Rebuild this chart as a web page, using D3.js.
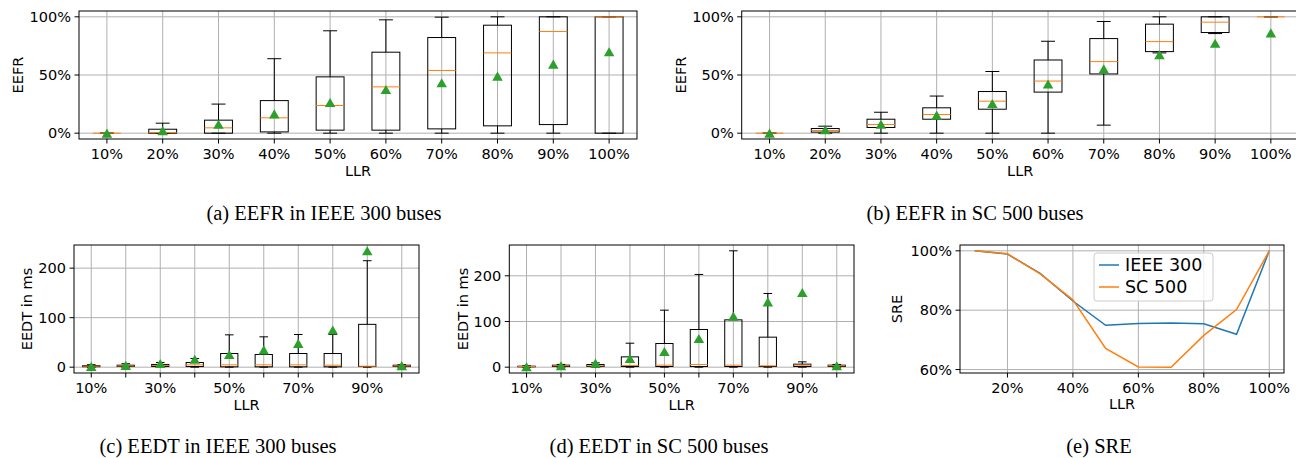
<!DOCTYPE html>
<html>
<head>
<meta charset="utf-8">
<script src="https://cdn.jsdelivr.net/npm/d3@7"></script>
<style>
    body { margin: 0; background: #fff; }
    text { font-family: "DejaVu Sans", sans-serif; fill: #000; }
    .caption { font-family: "Liberation Serif", serif; font-size: 20.5px; }
</style>
</head>
<body>
<svg id="fig" width="1296" height="458"></svg>
<script>
// x categories (load ratio)
const llrLabels = ["10%", "20%", "30%", "40%", "50%", "60%", "70%", "80%", "90%", "100%"];
const llrValues = [10, 20, 30, 40, 50, 60, 70, 80, 90, 100];

// box stats, one row per LLR: [whiskerLow, q1, median, q3, whiskerHigh, mean]
const eefrIeee300 = [
    [0, 0, 0, 0, 0, 0],
    [0, 0, 0.5, 3.4, 8.6, 2.2],
    [0, 0, 4.6, 11.2, 25, 7.7],
    [0, 1.1, 13.2, 28, 64, 16.6],
    [0, 2.6, 23.8, 48.4, 88, 26.4],
    [0, 2.6, 39.8, 69.6, 97.4, 37.5],
    [0, 3.7, 53.9, 82.2, 99.7, 43.3],
    [0, 6.3, 69, 92.8, 100, 49],
    [0, 7.4, 87.4, 100, 100, 59.3],
    [0, 0, 100, 100, 100, 70]
];
const eefrSc500 = [
    [0, 0, 0, 0, 0, 0],
    [0, 0.9, 2.3, 4, 6, 2.9],
    [0, 4.9, 7.5, 12, 18, 7.7],
    [0, 12, 16, 21.8, 31.9, 15.5],
    [0, 20.6, 27.5, 35.8, 53, 25.5],
    [0, 35.3, 44.8, 62.9, 79, 42.2],
    [6.9, 50.9, 61.5, 81.3, 96, 55.2],
    [69, 70.1, 78.7, 93.7, 100, 67.5],
    [85.6, 86.5, 95.4, 100, 100, 77.3],
    [100, 100, 100, 100, 100, 86.2]
];
const eedtIeee300 = [
    [0, 1, 2, 3, 5, 1.5],
    [0, 1.5, 2.5, 4, 7, 3.5],
    [0, 1.5, 3.5, 5.5, 9.5, 7.4],
    [0, 1.3, 4.7, 9.4, 17.5, 16],
    [0, 0.7, 4.7, 27.6, 65.3, 25.6],
    [0, 0.7, 4.7, 25.6, 61.3, 35],
    [0, 0.7, 4.7, 27.6, 66, 48],
    [0, 0.7, 4, 27.6, 66, 75],
    [0, 1.3, 2, 86.5, 215, 235],
    [0, 1.5, 2.6, 4, 5, 3]
];
const eedtSc500 = [
    [0, 0.8, 1.5, 2.2, 3, 1],
    [0, 1.5, 3, 4.4, 6, 3],
    [0, 1.5, 3, 5.8, 9.5, 8.8],
    [0, 1.5, 3.6, 22.6, 52.5, 19],
    [0, 1.5, 4.4, 51.8, 124.8, 34.3],
    [0, 1.5, 5.8, 82.5, 203, 62.8],
    [0, 1.5, 4.4, 103.6, 254.7, 111.7],
    [0, 1.5, 3, 65.7, 161.3, 143],
    [0, 1.5, 4.4, 6.6, 11.7, 163.5],
    [0, 1.5, 3, 4.4, 6, 3]
];

// SRE lines
const sreIeee300 = [100, 98.9, 92.4, 83.1, 74.9, 75.5, 75.7, 75.4, 71.9, 100];
const sreSc500 = [100, 99, 92.2, 83.5, 67.1, 60.9, 60.8, 71.5, 80.2, 100];

const eefrTicks = [0, 50, 100];
const eedtTicks = [0, 100, 200];
const sreXTicks = [20, 40, 60, 80, 100];
const sreYTicks = [60, 80, 100];
const seriesNames = ["IEEE 300", "SC 500"];

const captions = [
    { text: "(a)  EEFR in IEEE 300 buses", x: 324, y: 220 },
    { text: "(b)  EEFR in SC 500 buses", x: 975, y: 220 },
    { text: "(c)  EEDT in IEEE 300 buses", x: 218, y: 453 },
    { text: "(d)  EEDT in SC 500 buses", x: 659, y: 453 },
    { text: "(e)  SRE", x: 1099, y: 453 }
];

const blue = "#1f77b4", orange = "#ff7f0e", green = "#2ca02c", gridColor = "#b0b0b0";
const fontSize = 14.5;
const pct = d => d + "%";

const svg = d3.select("#fig");
svg.append("rect").attr("width", 1296).attr("height", 458).attr("fill", "#fff");

// matplotlib style 5% padding around the data range
function padded(lo, hi) {
    const m = (hi - lo) * 0.05;
    return [lo - m, hi + m];
}

function drawGrid(g, x, y, box, xTicks, yTicks) {
    g.selectAll(".gx").data(xTicks).join("line")
        .attr("x1", d => x(d)).attr("x2", d => x(d))
        .attr("y1", box.top).attr("y2", box.bottom)
        .attr("stroke", gridColor).attr("stroke-width", 1);
    g.selectAll(".gy").data(yTicks).join("line")
        .attr("x1", box.left).attr("x2", box.right)
        .attr("y1", d => y(d)).attr("y2", d => y(d))
        .attr("stroke", gridColor).attr("stroke-width", 1);
}

function drawAxes(g, x, y, box, xTicks, xTickLabel, yTicks, yFmt, xLabel, xLabelY, yLabel, yLabelX) {
    g.append("rect")
        .attr("x", box.left).attr("y", box.top)
        .attr("width", box.right - box.left).attr("height", box.bottom - box.top)
        .attr("fill", "none").attr("stroke", "#000").attr("stroke-width", 1);

    // x ticks
    g.selectAll(".xt").data(xTicks).join("line")
        .attr("x1", d => x(d)).attr("x2", d => x(d))
        .attr("y1", box.bottom).attr("y2", box.bottom + 4.5)
        .attr("stroke", "#000");
    g.selectAll(".xl").data(xTicks).join("text")
        .attr("x", d => x(d)).attr("y", box.bottom + 20)
        .attr("text-anchor", "middle").attr("font-size", fontSize)
        .text((d, i) => xTickLabel(d, i));

    // y ticks
    g.selectAll(".yt").data(yTicks).join("line")
        .attr("x1", box.left - 4.5).attr("x2", box.left)
        .attr("y1", d => y(d)).attr("y2", d => y(d))
        .attr("stroke", "#000");
    g.selectAll(".yl").data(yTicks).join("text")
        .attr("x", box.left - 8).attr("y", d => y(d) + 5.3)
        .attr("text-anchor", "end").attr("font-size", fontSize)
        .text(yFmt);

    g.append("text")
        .attr("x", (box.left + box.right) / 2).attr("y", xLabelY)
        .attr("text-anchor", "middle").attr("font-size", fontSize)
        .text(xLabel);
    g.append("text")
        .attr("transform", "translate(" + yLabelX + "," + (box.top + box.bottom) / 2 + ") rotate(-90)")
        .attr("text-anchor", "middle").attr("font-size", fontSize)
        .text(yLabel);
}

function boxPanel(opt) {
    const box = opt.box;
    const stats = opt.stats;
    const pos = d3.range(1, stats.length + 1);

    const x = d3.scaleLinear().domain([0.5, stats.length + 0.5]).range([box.left, box.right]);
    const lo = d3.min(stats, s => Math.min(s[0], s[5]));
    const hi = d3.max(stats, s => Math.max(s[4], s[5]));
    const y = d3.scaleLinear().domain(padded(lo, hi)).range([box.bottom, box.top]);

    const g = svg.append("g");
    drawGrid(g, x, y, box, pos, opt.yTicks);

    const bw = (x(1) - x(0)) * 0.5;
    const cw = bw * 0.5;
    const boxes = g.selectAll(".box").data(stats).join("g");

    // whiskers
    boxes.append("line")
        .attr("x1", (d, i) => x(pos[i])).attr("x2", (d, i) => x(pos[i]))
        .attr("y1", d => y(d[0])).attr("y2", d => y(d[1]))
        .attr("stroke", "#000");
    boxes.append("line")
        .attr("x1", (d, i) => x(pos[i])).attr("x2", (d, i) => x(pos[i]))
        .attr("y1", d => y(d[3])).attr("y2", d => y(d[4]))
        .attr("stroke", "#000");
    // caps
    [0, 4].forEach(k => {
        boxes.append("line")
            .attr("x1", (d, i) => x(pos[i]) - cw / 2).attr("x2", (d, i) => x(pos[i]) + cw / 2)
            .attr("y1", d => y(d[k])).attr("y2", d => y(d[k]))
            .attr("stroke", "#000");
    });
    // box
    boxes.append("rect")
        .attr("x", (d, i) => x(pos[i]) - bw / 2).attr("width", bw)
        .attr("y", d => y(d[3])).attr("height", d => y(d[1]) - y(d[3]))
        .attr("fill", "none").attr("stroke", "#000");
    // median
    boxes.append("line")
        .attr("x1", (d, i) => x(pos[i]) - bw / 2).attr("x2", (d, i) => x(pos[i]) + bw / 2)
        .attr("y1", d => y(d[2])).attr("y2", d => y(d[2]))
        .attr("stroke", orange);
    // mean marker
    const tri = d3.symbol().type(d3.symbolTriangle).size(48);
    boxes.append("path")
        .attr("d", tri)
        .attr("transform", (d, i) => "translate(" + x(pos[i]) + "," + (y(d[5]) + 1.5) + ")")
        .attr("fill", green);

    drawAxes(g, x, y, box, pos, opt.xTickLabel, opt.yTicks, opt.yFmt,
        "LLR", opt.xLabelY, opt.yLabel, opt.yLabelX);
}

boxPanel({
    box: { left: 79, right: 637, top: 11, bottom: 139 },
    stats: eefrIeee300, yTicks: eefrTicks, yFmt: pct,
    xTickLabel: (d, i) => llrLabels[i], xLabelY: 175.5,
    yLabel: "EEFR", yLabelX: 22.5
});
boxPanel({
    box: { left: 741.7, right: 1298.7, top: 11, bottom: 139 },
    stats: eefrSc500, yTicks: eefrTicks, yFmt: pct,
    xTickLabel: (d, i) => llrLabels[i], xLabelY: 175.5,
    yLabel: "EEFR", yLabelX: 685.5
});
boxPanel({
    box: { left: 74, right: 419, top: 245, bottom: 373 },
    stats: eedtIeee300, yTicks: eedtTicks, yFmt: d => d,
    xTickLabel: (d, i) => i % 2 === 0 ? llrLabels[i] : "", xLabelY: 410,
    yLabel: "EEDT in ms", yLabelX: 32
});
boxPanel({
    box: { left: 509.3, right: 854, top: 245, bottom: 373 },
    stats: eedtSc500, yTicks: eedtTicks, yFmt: d => d,
    xTickLabel: (d, i) => i % 2 === 0 ? llrLabels[i] : "", xLabelY: 410,
    yLabel: "EEDT in ms", yLabelX: 468
});

// (e) SRE line chart
(function () {
    const box = { left: 960, right: 1284, top: 245, bottom: 373 };
    const all = sreIeee300.concat(sreSc500);
    const x = d3.scaleLinear().domain(padded(d3.min(llrValues), d3.max(llrValues))).range([box.left, box.right]);
    const y = d3.scaleLinear().domain(padded(d3.min(all), d3.max(all))).range([box.bottom, box.top]);
    const g = svg.append("g");
    drawGrid(g, x, y, box, sreXTicks, sreYTicks);

    const line = d3.line().x((d, i) => x(llrValues[i])).y(d => y(d));
    [[sreIeee300, blue], [sreSc500, orange]].forEach(([vals, col]) => {
        g.append("path").datum(vals).attr("d", line)
            .attr("fill", "none").attr("stroke", col).attr("stroke-width", 1.5);
    });

    drawAxes(g, x, y, box, sreXTicks, d => d + "%", sreYTicks, pct, "LLR", 409, "SRE", 902);

    // legend
    const lg = g.append("g").attr("transform", "translate(1094,253)");
    lg.append("rect").attr("width", 119).attr("height", 48).attr("rx", 3)
        .attr("fill", "#fff").attr("fill-opacity", 0.8).attr("stroke", "#cccccc");
    [blue, orange].forEach((col, i) => {
        lg.append("line").attr("x1", 5).attr("x2", 25)
            .attr("y1", 12 + i * 22).attr("y2", 12 + i * 22)
            .attr("stroke", col).attr("stroke-width", 1.5);
        lg.append("text").attr("x", 31).attr("y", 12 + i * 22 + 6)
            .attr("font-size", 17.5).text(seriesNames[i]);
    });
})();

svg.selectAll(".caption").data(captions).join("text")
    .attr("class", "caption")
    .attr("x", d => d.x).attr("y", d => d.y)
    .attr("text-anchor", "middle")
    .text(d => d.text);
</script>
</body>
</html>
